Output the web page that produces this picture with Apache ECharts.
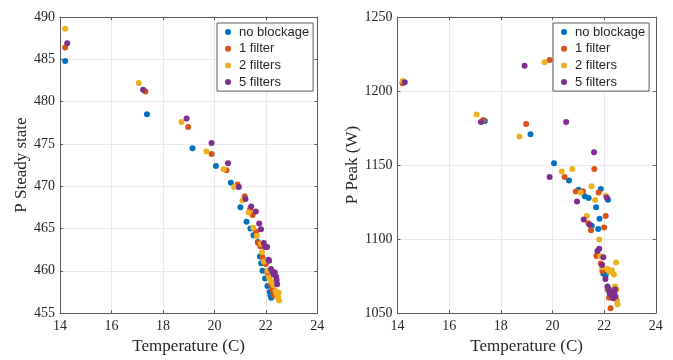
<!DOCTYPE html>
<html>
<head>
<meta charset="utf-8">
<script src="https://cdn.jsdelivr.net/npm/echarts@6/dist/echarts.min.js"></script>
<style>
  html, body { margin: 0; padding: 0; background: #fff; }
  #chart { width: 673px; height: 360px; }
</style>
</head>
<body>
<div id="chart"></div>
<script>
// Measurements per blockage level: temperature (C), steady-state power and peak power (W)
const seriesNames = ['no blockage', '1 filter', '2 filters', '5 filters'];
const seriesColors = ['#0072BD', '#D95319', '#EDB120', '#7E2F8E'];

const tempNone = [14.2, 17.38, 19.15, 20.06, 20.64, 21.01, 21.25, 21.40, 21.52, 21.69, 21.77, 21.82, 21.87, 21.97, 22.06, 22.15, 22.18, 22.21, 22.22];
const steadyNone = [484.8, 478.5, 474.5, 472.4, 470.4, 467.5, 465.8, 465.0, 464.2, 463.4, 461.7, 460.9, 460.0, 459.1, 458.2, 457.5, 457.1, 456.8, 457.3];
const peakNone = [1205.5, 1179.8, 1170.8, 1151.3, 1139.6, 1133.4, 1129.0, 1127.7, 1109.0, 1121.5, 1106.8, 1113.8, 1133.9, 1076.5, 1075.8, 1126.6, 1066.5, 1063.5, 1061.5];

const temp1 = [14.2, 17.32, 18.98, 19.89, 20.47, 20.90, 21.18, 21.39, 21.49, 21.62, 21.70, 21.79, 21.87, 21.93, 22.00, 22.06, 22.14, 22.19, 22.25, 22.30];
const steady1 = [486.4, 481.2, 477.0, 473.8, 471.9, 470.2, 468.8, 467.3, 466.6, 464.6, 463.3, 462.9, 461.6, 461.0, 460.8, 459.8, 459.2, 458.4, 457.8, 457.1];
const peak1 = [1205.2, 1180.5, 1177.8, 1220.9, 1142.0, 1132.1, 1132.3, 1110.7, 1106.0, 1147.4, 1088.6, 1131.5, 1083.5, 1078.5, 1107.8, 1115.6, 1066.0, 1060.4, 1053.3, 1062.0];

const temp2 = [14.2, 17.06, 18.72, 19.69, 20.36, 20.77, 21.09, 21.33, 21.51, 21.65, 21.81, 21.85, 21.92, 22.06, 22.12, 22.20, 22.30, 22.38, 22.42, 22.46, 22.48, 22.50, 22.52];
const steady2 = [488.6, 482.2, 477.6, 474.1, 472.0, 469.9, 468.3, 466.9, 465.1, 464.1, 463.2, 462.2, 461.1, 460.0, 459.2, 458.7, 458.3, 457.6, 457.3, 457.0, 456.8, 457.4, 456.5];
const peak2 = [1206.8, 1184.2, 1169.2, 1219.5, 1145.6, 1147.4, 1131.5, 1115.6, 1135.6, 1126.4, 1099.7, 1088.6, 1081.0, 1129.3, 1080.0, 1078.0, 1079.0, 1076.0, 1068.0, 1084.2, 1066.0, 1058.5, 1056.0];

const temp5 = [14.28, 17.23, 18.92, 19.89, 20.53, 20.95, 21.21, 21.43, 21.61, 21.74, 21.81, 21.92, 21.97, 22.05, 22.10, 22.13, 22.20, 22.26, 22.30, 22.35, 22.40, 22.42, 22.44];
const steady5 = [486.9, 481.4, 478.0, 475.1, 472.7, 469.9, 468.5, 467.6, 467.0, 465.6, 464.9, 463.3, 462.8, 462.8, 461.3, 461.2, 460.2, 459.9, 459.6, 459.8, 459.3, 458.9, 458.4];
const peak5 = [1206.0, 1179.0, 1217.1, 1141.9, 1179.0, 1125.3, 1113.2, 1109.6, 1158.6, 1092.0, 1093.5, 1082.5, 1087.7, 1073.0, 1128.1, 1068.0, 1065.0, 1062.6, 1064.0, 1060.0, 1063.0, 1066.0, 1061.0];

// Axis ranges and tick labels
const xTicks = [14, 16, 18, 20, 22, 24];
const steadyTicks = [455, 460, 465, 470, 475, 480, 485, 490];
const peakTicks = [1050, 1100, 1150, 1200, 1250];

const temps = [tempNone, temp1, temp2, temp5];
const steadies = [steadyNone, steady1, steady2, steady5];
const peaks = [peakNone, peak1, peak2, peak5];

const serif = 'Liberation Serif';
const boxColor = '#5a5a5a';
const textColor = '#262626';
const gridLineColor = '#e9e9e9';

function pairs(xs, ys) { return xs.map((x, i) => [x, ys[i]]); }
const plain = v => String(v);

function mainX(gridIndex) {
  return {
    type: 'value', gridIndex, position: 'bottom',
    min: xTicks[0], max: xTicks[xTicks.length - 1], interval: xTicks[1] - xTicks[0],
    name: 'Temperature (C)', nameLocation: 'middle', nameGap: 21,
    nameTextStyle: { fontFamily: serif, fontSize: 17, color: textColor },
    axisLine: { show: true, lineStyle: { color: boxColor, width: 1 } },
    axisTick: { show: true, inside: true, length: 3, lineStyle: { color: boxColor } },
    axisLabel: { fontFamily: serif, fontSize: 14, color: textColor, margin: 6, formatter: plain },
    splitLine: { show: true, lineStyle: { color: gridLineColor, width: 1 } }
  };
}
function topX(gridIndex) {
  return {
    type: 'value', gridIndex, position: 'top',
    min: xTicks[0], max: xTicks[xTicks.length - 1], interval: xTicks[1] - xTicks[0],
    axisLine: { show: true, lineStyle: { color: boxColor, width: 1 } },
    axisTick: { show: true, inside: true, length: 3, lineStyle: { color: boxColor } },
    axisLabel: { show: false }, splitLine: { show: false }
  };
}
function mainY(gridIndex, ticks, name, gap) {
  return {
    type: 'value', gridIndex, position: 'left',
    min: ticks[0], max: ticks[ticks.length - 1], interval: ticks[1] - ticks[0],
    name, nameLocation: 'middle', nameGap: gap,
    nameTextStyle: { fontFamily: serif, fontSize: 17, color: textColor },
    axisLine: { show: true, lineStyle: { color: boxColor, width: 1 } },
    axisTick: { show: true, inside: true, length: 3, lineStyle: { color: boxColor } },
    axisLabel: { fontFamily: serif, fontSize: 14, color: textColor, margin: 5, formatter: plain },
    splitLine: { show: true, lineStyle: { color: gridLineColor, width: 1 } }
  };
}
function rightY(gridIndex, ticks) {
  return {
    type: 'value', gridIndex, position: 'right',
    min: ticks[0], max: ticks[ticks.length - 1], interval: ticks[1] - ticks[0],
    axisLine: { show: true, lineStyle: { color: boxColor, width: 1 } },
    axisTick: { show: true, inside: true, length: 3, lineStyle: { color: boxColor } },
    axisLabel: { show: false }, splitLine: { show: false }
  };
}
function legendAt(left) {
  return {
    data: seriesNames, orient: 'vertical', left, top: 23,
    icon: 'circle', itemWidth: 6, itemHeight: 6, itemGap: 2.7,
    padding: [2, 4, 2, 8],
    backgroundColor: '#fff', borderColor: boxColor, borderWidth: 1, borderRadius: 0,
    textStyle: { fontFamily: 'Liberation Sans', fontSize: 13, color: textColor, lineHeight: 14, padding: [0, 0, 0, 3] }
  };
}

const series = [];
seriesNames.forEach((name, k) => {
  series.push({
    name, type: 'scatter', xAxisIndex: 0, yAxisIndex: 0,
    data: pairs(temps[k], steadies[k]), symbolSize: 6,
    itemStyle: { color: seriesColors[k], opacity: 1 }, z: 3 + k
  });
});
seriesNames.forEach((name, k) => {
  series.push({
    name, type: 'scatter', xAxisIndex: 2, yAxisIndex: 2,
    data: pairs(temps[k], peaks[k]), symbolSize: 6,
    itemStyle: { color: seriesColors[k], opacity: 1 }, z: 3 + k
  });
});

const chart = echarts.init(document.getElementById('chart'), null, { renderer: 'canvas' });
chart.setOption({
  animation: false,
  backgroundColor: '#ffffff',
  grid: [
    { left: 60, top: 17, width: 257.3, height: 302, containLabel: false },
    { left: 397.5, top: 17, width: 258.3, height: 302, containLabel: false }
  ],
  xAxis: [mainX(0), topX(0), mainX(1), topX(1)],
  yAxis: [
    mainY(0, steadyTicks, 'P Steady state', 26), rightY(0, steadyTicks),
    mainY(1, peakTicks, 'P Peak (W)', 35), rightY(1, peakTicks)
  ],
  legend: [legendAt(217), legendAt(553)],
  series
});
</script>
</body>
</html>
